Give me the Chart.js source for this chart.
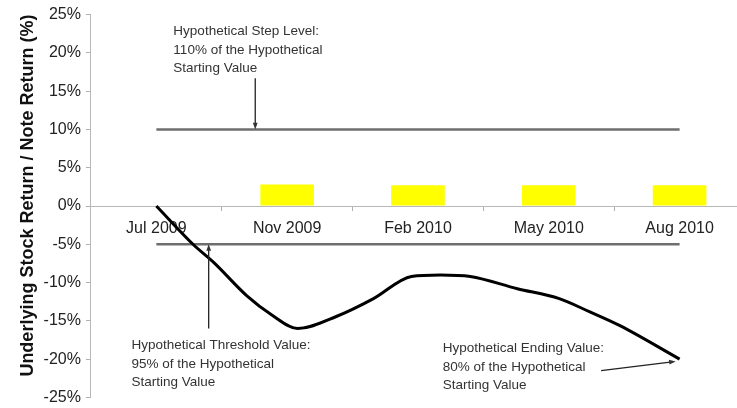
<!DOCTYPE html>
<html>
<head>
<meta charset="utf-8">
<script src="https://cdn.jsdelivr.net/npm/chart.js@4.4.0/dist/chart.umd.min.js"></script>
<style>
  html, body { margin: 0; padding: 0; overflow: hidden; background: #fff; }
  #wrap { width: 737px; height: 408px; overflow: hidden; }
</style>
</head>
<body>
<div id="wrap"><canvas id="canvas" width="750" height="412"></canvas></div>
<script>
// categories on the x axis
const months = ['Jul 2009', 'Nov 2009', 'Feb 2010', 'May 2010', 'Aug 2010'];
// yellow note return bars (no bar on the first date)
const noteReturn = [null, 2.8, 2.7, 2.7, 2.7];
// flat reference levels
const stepLevel = [10, 10, 10, 10, 10];
const thresholdLevel = [-5, -5, -5, -5, -5];
// stock path, x in category index units
const stockX = [0, 0.28, 0.44, 0.69, 0.88, 1.08, 1.38, 1.66, 1.95, 2.17, 2.40, 2.76, 3.08, 3.31, 3.54, 4];
const stockY = [0, -5, -7.4, -11.7, -14.2, -16, -14.4, -12.1, -9.2, -9.0, -9.2, -10.8, -12.1, -13.8, -15.6, -20];
// y tick range
const yMin = -25, yMax = 25, yStep = 5;

const FONT = '"Liberation Sans", Arial, sans-serif';

// callout texts and arrows (anchored in data units)
const callouts = [
    { x: 0.13, y: 22.8, lines: ['Hypothetical Step Level:', '110% of the Hypothetical', 'Starting Value'],
      from: [0.756, 16.7], to: [0.756, 10] },
    { x: -0.19, y: -18.2, lines: ['Hypothetical Threshold Value:', '95% of the Hypothetical', 'Starting Value'],
      from: [0.40, -16.0], to: [0.40, -5] },
    { x: 2.19, y: -18.6, lines: ['Hypothetical Ending Value:', '80% of the Hypothetical', 'Starting Value'],
      from: [3.40, -21.5], to: [3.97, -20.3] }
];

function drawArrow(ctx, x1, y1, x2, y2) {
    const ang = Math.atan2(y2 - y1, x2 - x1);
    const head = 7;
    ctx.beginPath();
    ctx.moveTo(x1, y1);
    ctx.lineTo(x2 - Math.cos(ang) * head * 0.8, y2 - Math.sin(ang) * head * 0.8);
    ctx.stroke();
    ctx.beginPath();
    ctx.moveTo(x2, y2);
    ctx.lineTo(x2 - head * Math.cos(ang - 0.35), y2 - head * Math.sin(ang - 0.35));
    ctx.lineTo(x2 - head * Math.cos(ang + 0.35), y2 - head * Math.sin(ang + 0.35));
    ctx.closePath();
    ctx.fill();
}

//plugin that writes the callouts on top of the chart
const calloutPlugin = {
    id: 'callouts',
    afterDraw(chart) {
        const ctx = chart.ctx;
        const xs = chart.scales.xl, ys = chart.scales.y;
        ctx.save();
        ctx.fillStyle = '#333';
        ctx.strokeStyle = '#222';
        ctx.lineWidth = 1.3;
        ctx.font = '13.5px ' + FONT;
        ctx.textBaseline = 'middle';
        ctx.textAlign = 'left';
        callouts.forEach(c => {
            const px = xs.getPixelForValue(c.x);
            const py = ys.getPixelForValue(c.y);
            c.lines.forEach((t, i) => ctx.fillText(t, px, py + i * 18.5));
            drawArrow(ctx,
                xs.getPixelForValue(c.from[0]), ys.getPixelForValue(c.from[1]),
                xs.getPixelForValue(c.to[0]), ys.getPixelForValue(c.to[1]));
        });
        ctx.restore();
    }
};

const ctx = document.getElementById('canvas').getContext('2d');
new Chart(ctx, {
    type: 'line',
    data: {
        labels: months,
        datasets: [
            {
                label: 'Stock',
                data: stockX.map((x, i) => ({ x: x, y: stockY[i] })),
                xAxisID: 'xl',
                borderColor: '#000',
                borderWidth: 3,
                pointRadius: 0,
                cubicInterpolationMode: 'monotone',
                fill: false,
                order: 0
            },
            {
                label: 'Step Level',
                data: stepLevel,
                xAxisID: 'x',
                borderColor: '#6e6e6e',
                borderWidth: 2.5,
                pointRadius: 0,
                fill: false,
                order: 1
            },
            {
                label: 'Threshold',
                data: thresholdLevel,
                xAxisID: 'x',
                borderColor: '#6e6e6e',
                borderWidth: 2.5,
                pointRadius: 0,
                fill: false,
                order: 1
            },
            {
                type: 'bar',
                label: 'Note Return',
                data: noteReturn,
                xAxisID: 'x',
                backgroundColor: '#ffff00',
                grouped: false,
                barPercentage: 0.41,
                categoryPercentage: 1,
                order: 2
            }
        ]
    },
    options: {
        responsive: false,
        animation: false,
        layout: { padding: { top: 13, bottom: 0, left: 17, right: 5 } },
        plugins: {
            legend: { display: false },
            tooltip: { enabled: false }
        },
        scales: {
            x: {
                type: 'category',
                position: { y: 0 },
                offset: true,
                grid: { offset: true, drawOnChartArea: false, tickLength: 4, color: '#b0b0b0' },
                border: { color: '#b8b8b8', width: 1 },
                ticks: { color: '#222', padding: 9, font: { family: FONT, size: 16 }, maxRotation: 0 }
            },
            xl: {
                type: 'linear',
                display: false,
                offset: false,
                min: -0.5,
                max: 4.5
            },
            y: {
                min: yMin,
                max: yMax,
                grid: { drawOnChartArea: false, tickLength: 5, color: '#b0b0b0' },
                border: { color: '#b8b8b8', width: 1 },
                ticks: {
                    stepSize: yStep,
                    color: '#222',
                    padding: 5,
                    font: { family: FONT, size: 16 },
                    callback: v => v + '%'
                },
                title: {
                    display: true,
                    align: 'end',
                    text: 'Underlying Stock Return / Note Return (%)',
                    color: '#111',
                    font: { family: FONT, size: 18, weight: 'bold' },
                    padding: { top: 0, bottom: 0 }
                }
            }
        }
    },
    plugins: [calloutPlugin]
});
</script>
</body>
</html>
